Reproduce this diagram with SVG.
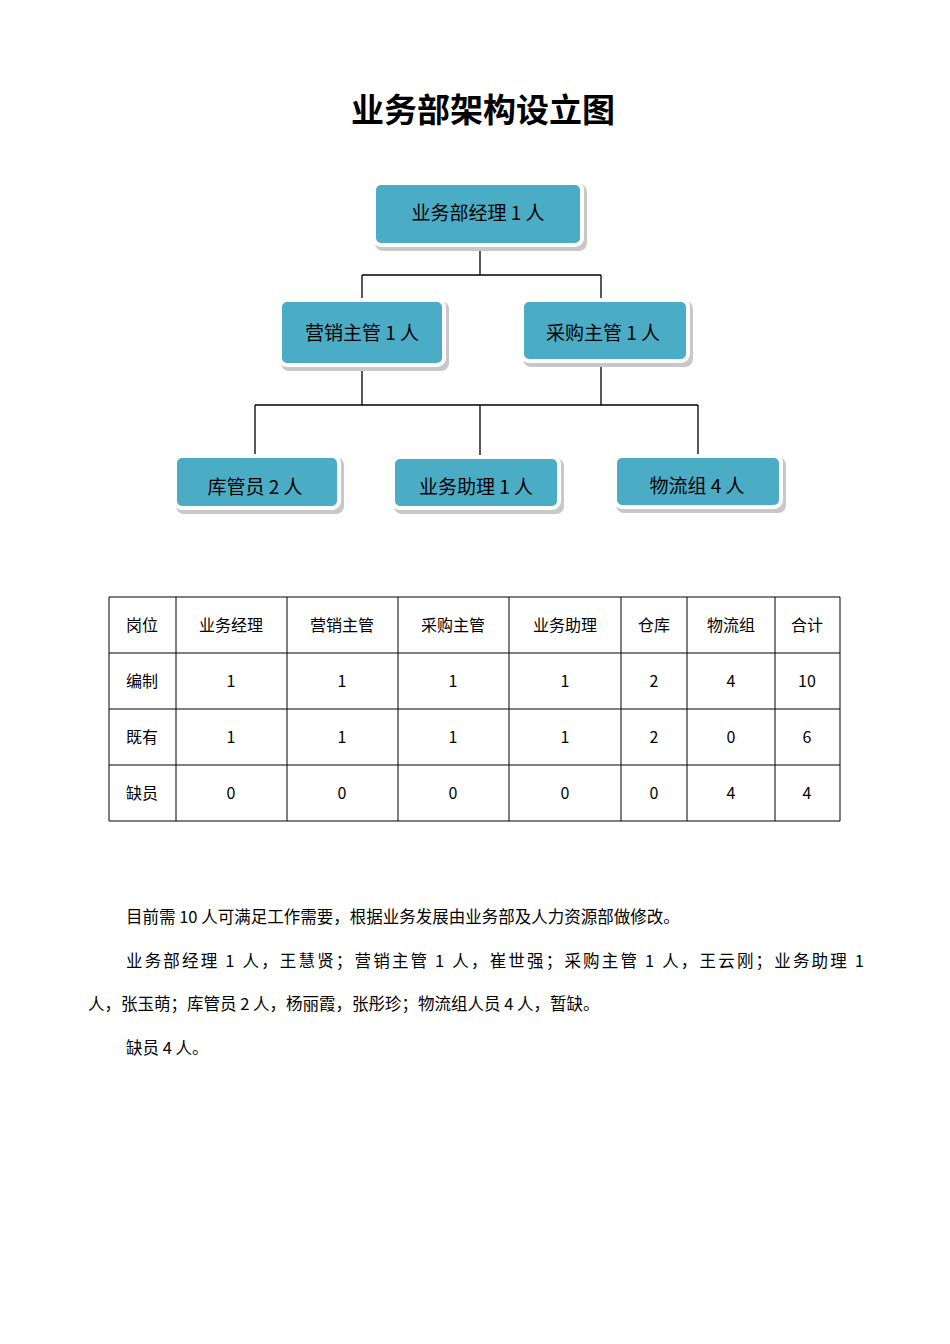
<svg xmlns="http://www.w3.org/2000/svg" width="950" height="1344" viewBox="0 0 950 1344">
<style>
text{font-family:"Noto Sans CJK SC","Liberation Sans",sans-serif;fill:#000}
.box{fill:#4BACC6;stroke:#fff;stroke-width:4}
.sh{fill:#c8c8c8}
.bl{font-size:19px;text-anchor:middle}
.c{stroke:#000;stroke-width:1.3;fill:none}
.t{stroke:#000;stroke-width:1;fill:none}
.tc{font-size:16px;text-anchor:middle}
.p{font-size:16.5px}
</style>
<rect width="950" height="1344" fill="#fff"/>
<text x="483" y="122" font-size="33" font-weight="bold" text-anchor="middle">业务部架构设立图</text>
<g id="connectors">
<path class="c" d="M480 248V275M362 275H601M362 275V298M601 275V298M362 369V405M601 364V405M255 405H698M255 405V455M480 405V455M698 405V455"/>
</g>
<g id="n1"><rect class="sh" x="375" y="184" width="212" height="67" rx="8"/><rect class="box" x="374" y="183" width="208" height="62" rx="7"/><text class="bl" x="478" y="220" font-size="24">业务部经理 1 人</text></g>
<g id="n2"><rect class="sh" x="281" y="301" width="168" height="70" rx="8"/><rect class="box" x="280" y="300" width="164" height="65" rx="7"/><text class="bl" x="362" y="340" font-size="21">营销主管 1 人</text></g>
<g id="n3"><rect class="sh" x="523" y="301" width="170" height="66" rx="8"/><rect class="box" x="522" y="300" width="166" height="61" rx="7"/><text class="bl" x="603" y="340" font-size="21">采购主管 1 人</text></g>
<g id="n4"><rect class="sh" x="176" y="457" width="168" height="57" rx="8"/><rect class="box" x="175" y="456" width="164" height="52" rx="7"/><text class="bl" x="255" y="494" font-size="18">库管员 2 人</text></g>
<g id="n5"><rect class="sh" x="394" y="458" width="170" height="56" rx="8"/><rect class="box" x="393" y="457" width="166" height="51" rx="7"/><text class="bl" x="476" y="494" font-size="18">业务助理 1 人</text></g>
<g id="n6"><rect class="sh" x="616" y="457" width="170" height="56" rx="8"/><rect class="box" x="615" y="456" width="166" height="51" rx="7"/><text class="bl" x="697" y="493" font-size="18">物流组 4 人</text></g>
<g id="table">
<path class="t" d="M109 597H840V821H109ZM109 653H840M109 709H840M109 765H840M176 597V821M287 597V821M398 597V821M509 597V821M621 597V821M687 597V821M775 597V821"/>
<g class="tc">
<text x="142" y="631">岗位</text><text x="231" y="631">业务经理</text><text x="342" y="631">营销主管</text><text x="453" y="631">采购主管</text><text x="565" y="631">业务助理</text><text x="654" y="631">仓库</text><text x="731" y="631">物流组</text><text x="807" y="631">合计</text>
<text x="142" y="687">编制</text><text x="231" y="687">1</text><text x="342" y="687">1</text><text x="453" y="687">1</text><text x="565" y="687">1</text><text x="654" y="687">2</text><text x="731" y="687">4</text><text x="807" y="687">10</text>
<text x="142" y="743">既有</text><text x="231" y="743">1</text><text x="342" y="743">1</text><text x="453" y="743">1</text><text x="565" y="743">1</text><text x="654" y="743">2</text><text x="731" y="743">0</text><text x="807" y="743">6</text>
<text x="142" y="799">缺员</text><text x="231" y="799">0</text><text x="342" y="799">0</text><text x="453" y="799">0</text><text x="565" y="799">0</text><text x="654" y="799">0</text><text x="731" y="799">4</text><text x="807" y="799">4</text>
</g>
</g>
<text class="p" x="126" y="923">目前需 10 人可满足工作需要，根据业务发展由业务部及人力资源部做修改。</text>
<text class="p" x="126" y="967" textLength="738" lengthAdjust="spacing">业务部经理 1 人，王慧贤；营销主管 1 人，崔世强；采购主管 1 人，王云刚；业务助理 1</text>
<text class="p" x="88" y="1010">人，张玉萌；库管员 2 人，杨丽霞，张彤珍；物流组人员 4 人，暂缺。</text>
<text class="p" x="126" y="1054">缺员 4 人。</text>
</svg>
